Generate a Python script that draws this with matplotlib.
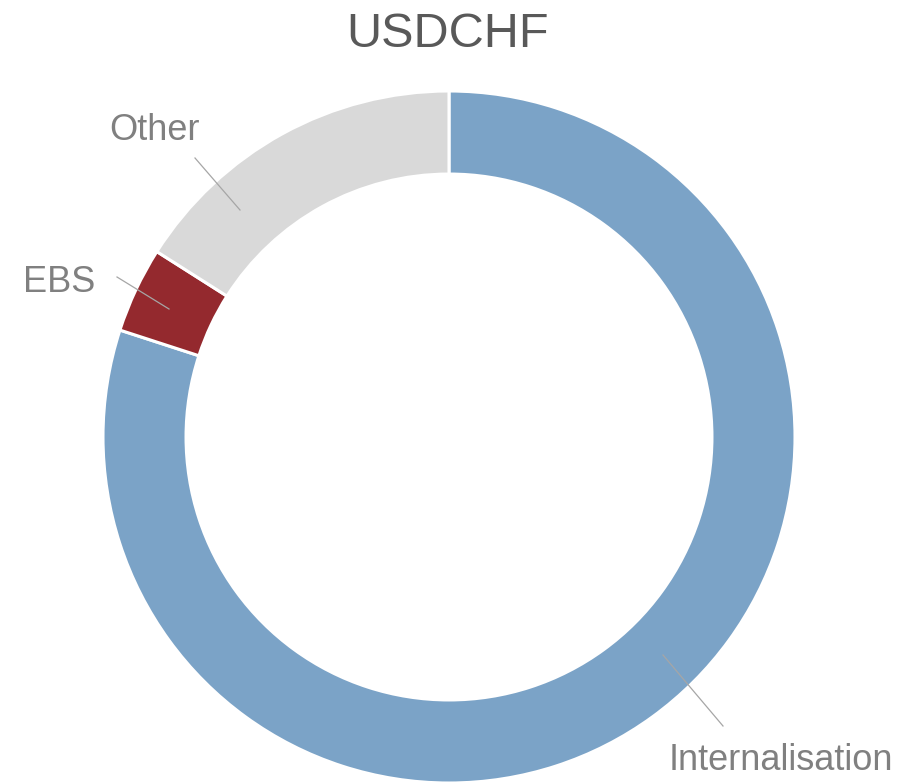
import matplotlib.pyplot as plt

# ====== Dati ======
labels = ['Internalisation', 'EBS', 'Other']
shares = [80, 4, 16]
colors = ['#7BA3C7', '#94292E', '#D9D9D9']

plt.rcParams['font.family'] = ['Liberation Sans', 'DejaVu Sans']

W, H = 915, 783
CX, CY, R = 449, 437, 346  # centro e raggio della ciambella in pixel


def px(x, y):
    # pixel dell'immagine -> coordinate dati (raggio = 1)
    return (x - CX) / R, (CY - y) / R


fig = plt.figure(figsize=(W / 100, H / 100), dpi=100)
ax = fig.add_axes([0, 0, 1, 1])

ax.pie(shares, colors=colors, startangle=90, counterclock=False, radius=1,
       wedgeprops=dict(width=0.24, edgecolor='white', linewidth=2.2))

# pie() reimposta i limiti: li fisso dopo
ax.set_xlim(-CX / R, (W - CX) / R)
ax.set_ylim(-(H - CY) / R, CY / R)
ax.set_aspect('equal')
ax.axis('off')

# etichette con linee guida
label_pos = {
    'Other': ((155, 140), (195, 158), (240, 210)),
    'EBS': ((59, 292), (117, 277), (169, 309)),
    'Internalisation': ((781, 770), (723, 726), (663, 655)),
}
for name, (txt, p0, p1) in label_pos.items():
    x0, y0 = px(*p0)
    x1, y1 = px(*p1)
    ax.plot([x0, x1], [y0, y1], color='#A6A6A6', lw=0.9)
    tx, ty = px(*txt)
    ax.text(tx, ty, name, ha='center', va='baseline', fontsize=26, color='#808080')

tx, ty = px(448, 47)
ax.text(tx, ty, 'USDCHF', ha='center', va='baseline', fontsize=35, color='#595959')

fig.savefig('out.png', dpi=100)
